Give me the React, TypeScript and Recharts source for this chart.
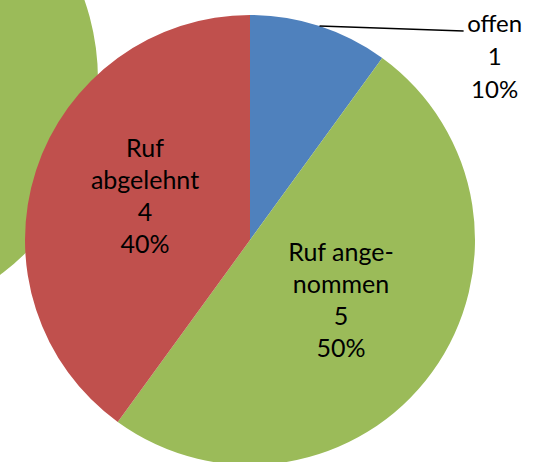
import { PieChart, Pie, Cell } from "recharts";

const categories = ["offen", "Ruf angenommen", "Ruf abgelehnt"];
const values = [1, 5, 4];
const labelLines = [["offen"], ["Ruf ange-", "nommen"], ["Ruf", "abgelehnt"]];
const COLORS = ["#4F81BD", "#9BBB59", "#C0504D"];

// edge of a neighbouring pie that sticks into the picture on the left
const neighbourValues = [1];

const data = categories.map((name, i) => ({ name, value: values[i], lines: labelLines[i] }));
const neighbour = neighbourValues.map((value) => ({ name: "Ruf angenommen", value }));

const RAD = Math.PI / 180;
const FONT = "Lato, 'Open Sans', sans-serif";
const LINE_H = 32;

function renderLabel(props: any) {
  const { cx, cy, midAngle, outerRadius, percent, value, index } = props;
  const lines = [...data[index].lines, String(value), `${Math.round(percent * 100)}%`];
  const cos = Math.cos(-midAngle * RAD);
  const sin = Math.sin(-midAngle * RAD);

  if (index === 0) {
    const sx = cx + outerRadius * cos;
    const sy = cy + outerRadius * sin;
    const ex = cx + outerRadius * 0.945 + 1;
    const ey = sy + 5;
    const tx = ex + 31;
    return (
      <g key="lbl-0">
        <polyline points={`${sx},${sy} ${ex},${ey}`} stroke="#000" strokeWidth={1.5} fill="none" />
        {lines.map((t, i) => (
          <text key={i} x={tx} y={ey - 9 + i * 33} textAnchor="middle" dominantBaseline="central" fill="#000" fontSize={24} fontFamily={FONT}>
            {t}
          </text>
        ))}
      </g>
    );
  }

  const r = outerRadius * 0.5;
  const x = cx + r * cos;
  const y = cy + r * sin;
  const top = y - ((lines.length - 1) * LINE_H) / 2 - (index === 2 ? 10 : 7);
  return (
    <g key={`lbl-${index}`}>
      {lines.map((t, i) => (
        <text key={i} x={x + (index === 2 ? 2 : 0)} y={top + i * LINE_H} textAnchor="middle" dominantBaseline="central" fill="#000" fontSize={25} fontFamily={FONT}>
          {t}
        </text>
      ))}
    </g>
  );
}

export default function App() {
  return (
    <div style={{ position: "absolute", left: 0, top: 0, width: 539, height: 462, background: "#fff", overflow: "hidden" }}>
      <PieChart width={539} height={462} margin={{ top: 0, right: 0, bottom: 0, left: 0 }}>
        <Pie
          data={neighbour}
          dataKey="value"
          cx={-145}
          cy={80}
          outerRadius={243}
          stroke="none"
          isAnimationActive={false}
        >
          {neighbour.map((_, i) => (
            <Cell key={i} fill={COLORS[1]} />
          ))}
        </Pie>
        <Pie
          data={data}
          dataKey="value"
          cx={250}
          cy={240}
          outerRadius={225}
          startAngle={90}
          endAngle={-270}
          stroke="none"
          label={renderLabel}
          labelLine={false}
          isAnimationActive={false}
        >
          {data.map((_, i) => (
            <Cell key={i} fill={COLORS[i]} />
          ))}
        </Pie>
      </PieChart>
    </div>
  );
}
